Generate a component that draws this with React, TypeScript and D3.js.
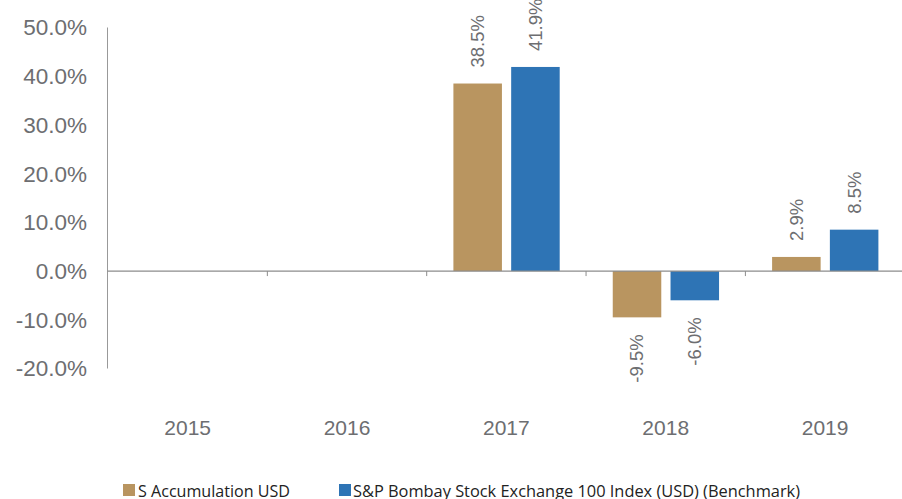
import React from "react";
import * as d3 from "d3";

const years = ["2015", "2016", "2017", "2018", "2019"];
const seriesNames = ["S Accumulation USD", "S&P Bombay Stock Exchange 100 Index (USD) (Benchmark)"];
const fundValues: (number | null)[] = [null, null, 38.5, -9.5, 2.9];
const benchValues: (number | null)[] = [null, null, 41.9, -6.0, 8.5];
const yTicks = [-20, -10, 0, 10, 20, 30, 40, 50];
const colors = ["#B99560", "#2E74B5"];

const W = 902;
const H = 499;
const TEXT = "#6d6e71";

export default function App() {
  const y = d3.scaleLinear().domain([-20, 50]).range([368.5, 27.5]);
  const x0 = d3.scaleBand<string>().domain(years).range([108, 108 + 159.35 * 5]).padding(0);
  const x1 = d3.scaleBand<string>().domain(seriesNames).range([26.7, 133]).paddingInner(0.16).paddingOuter(0);
  const all = [fundValues, benchValues];
  const fmt = (v: number) => v.toFixed(1) + "%";

  return (
    <svg width={W} height={H} style={{ position: "absolute", left: 0, top: 0, background: "#fff" }}
      fontFamily="'Liberation Sans', Arial, sans-serif">
      {/* y axis line */}
      <line x1={107.5} x2={107.5} y1={y(50)} y2={y(-20)} stroke="#999" strokeWidth={1} />
      {yTicks.map((t) => (
        <text key={t} x={87} y={y(t)} dy="0.35em" textAnchor="end" fontSize={22.5} fill={TEXT}>
          {t.toFixed(1) + "%"}
        </text>
      ))}
      {/* bars */}
      {all.map((vals, si) =>
        vals.map((v, i) => {
          if (v === null) return null;
          const bx = (x0(years[i]) as number) + (x1(seriesNames[si]) as number);
          const bw = x1.bandwidth();
          const top = y(Math.max(0, v));
          const bot = y(Math.min(0, v));
          const cx = bx + bw / 2;
          return (
            <g key={si + "-" + i}>
              <rect x={bx} y={top} width={bw} height={bot - top} fill={colors[si]} />
              {v >= 0 ? (
                <text transform={`translate(${cx},${top - 16}) rotate(-90)`} dy="0.35em" textAnchor="start"
                  fontSize={18.5} fill={TEXT}>{fmt(v)}</text>
              ) : (
                <text transform={`translate(${cx},${bot + 17}) rotate(-90)`} dy="0.35em" textAnchor="end"
                  fontSize={18.5} fill={TEXT}>{fmt(v)}</text>
              )}
            </g>
          );
        })
      )}
      {/* zero line */}
      <line x1={107.5} x2={W} y1={y(0)} y2={y(0)} stroke="#8c8c8c" strokeWidth={1.2} />
      {years.slice(1).map((yr) => (
        <line key={yr} x1={x0(yr)} x2={x0(yr)} y1={y(0)} y2={y(0) + 5} stroke="#8c8c8c" strokeWidth={1} />
      ))}
      {years.map((yr) => (
        <text key={yr} x={(x0(yr) as number) + x0.bandwidth() / 2} y={434.7} textAnchor="middle" fontSize={21} fill={TEXT}>
          {yr}
        </text>
      ))}
      {/* legend */}
      <rect x={123} y={484} width={12} height={12} fill={colors[0]} />
      <text x={138} y={496.5} fontSize={16} fill="#222" fontFamily="'Open Sans', sans-serif" textLength={152} lengthAdjust="spacingAndGlyphs">
        {seriesNames[0]}
      </text>
      <rect x={339} y={484} width={12} height={12} fill={colors[1]} />
      <text x={353} y={496.5} fontSize={16} fill="#222" fontFamily="'Open Sans', sans-serif" textLength={447} lengthAdjust="spacingAndGlyphs">
        {seriesNames[1]}
      </text>
    </svg>
  );
}
